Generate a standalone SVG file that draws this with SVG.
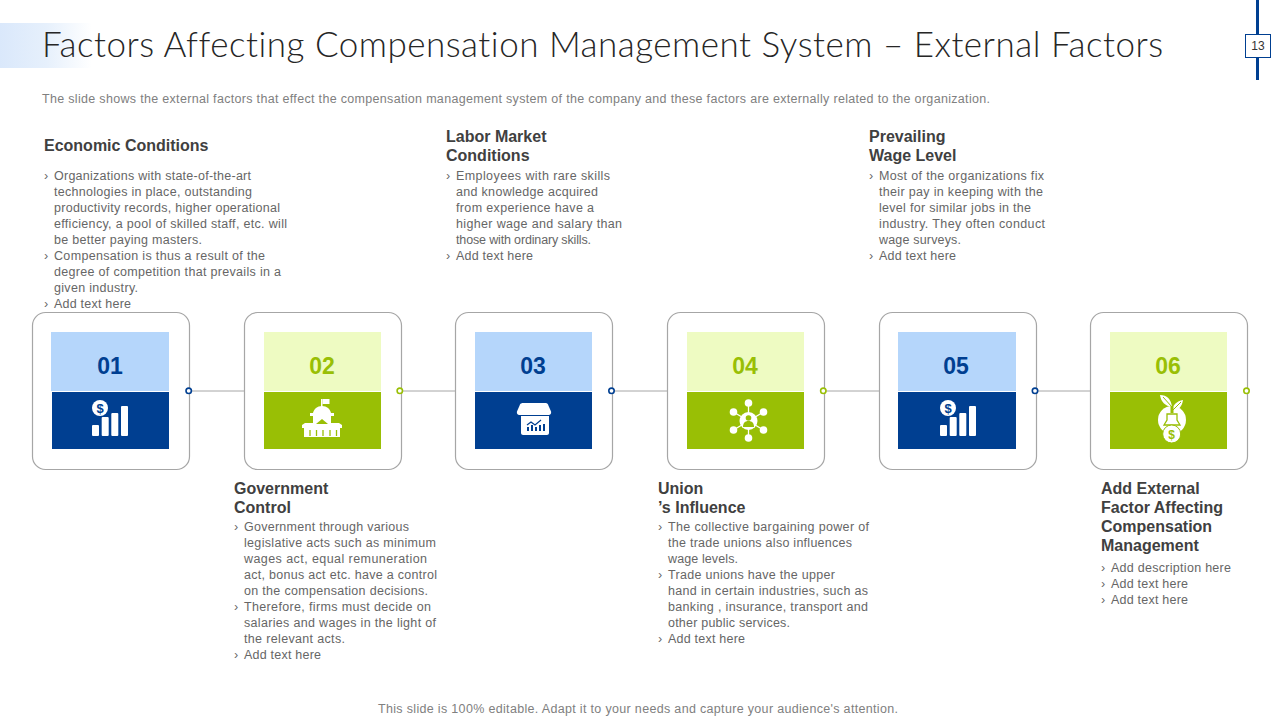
<svg xmlns="http://www.w3.org/2000/svg" width="1280" height="720" viewBox="0 0 1280 720">
<style>
.card{fill:#fff;stroke:#a6a6a6;stroke-width:1.2}
.b1{fill:#b5d6fb}.b2{fill:#003f91}.g1{fill:#eefbc2}.g2{fill:#99bf05}
.num{font:bold 23px "Liberation Sans",Arial,sans-serif;text-anchor:middle}
.nb{fill:#003f91}.ng{fill:#99bf05}
.h{font:bold 16px "Liberation Sans",Arial,sans-serif;fill:#404040}
.t{font:12.500px "Liberation Sans",Arial,sans-serif;fill:#666}
.s{font:12.500px "Liberation Sans",Arial,sans-serif;fill:#808080}
.lnk{stroke:#a6a6a6;stroke-width:1;fill:none}
.db{fill:#fff;stroke:#003f91;stroke-width:1.600}
.dg{fill:#fff;stroke:#99bf05;stroke-width:1.600}
</style>
<defs>
<linearGradient id="hg" x1="0" x2="1" y1="0" y2="0"><stop offset="0" stop-color="#dae8fb"/><stop offset=".5" stop-color="#e6f0fc"/><stop offset="1" stop-color="#fff"/></linearGradient>
<symbol id="bars" overflow="visible">
<circle cx="8" cy="8" r="8" fill="#fff"/>
<text x="8" y="12.500" font-family="Liberation Sans,sans-serif" font-weight="bold" font-size="13" text-anchor="middle" fill="#003f91">$</text>
<rect x="0" y="25" width="7" height="11" rx="1" fill="#fff"/><rect x="9.700" y="17" width="7" height="19" rx="1" fill="#fff"/><rect x="19.300" y="13" width="7" height="23" rx="1" fill="#fff"/><rect x="29" y="6" width="7" height="30" rx="1" fill="#fff"/>
</symbol>
</defs>
<rect id="header-band" x="0" y="23" width="92" height="45" fill="url(#hg)"/>
<text id="title" x="42" y="57" font-family="Lato,'Open Sans',sans-serif" font-weight="300" font-size="35" fill="#262626" style="font-variant-ligatures:none" textLength="1121" lengthAdjust="spacing">Factors Affecting Compensation Management System – External Factors</text>
<g id="page-number"><rect x="1256" y="0" width="3" height="80" fill="#003f91"/><rect x="1245.500" y="34.500" width="25" height="23" fill="#fff" stroke="#003f91"/><text x="1258" y="50" font-family="Liberation Sans,sans-serif" font-size="12" fill="#333" text-anchor="middle">13</text></g>
<text id="subtitle" class="s" x="42" y="103" textLength="948" lengthAdjust="spacing">The slide shows the external factors that effect the compensation management system of the company and these factors are externally related to the organization.</text>

<g id="node-01">
<rect class="card" x="32.500" y="312.500" width="157" height="157" rx="13"/>
<rect class="b1" x="51" y="332" width="118" height="59"/><rect class="b2" x="52" y="392" width="117" height="57"/>
<text class="num nb" x="110" y="374">01</text>
<use href="#bars" x="92" y="400"/>
<text class="h" x="44" y="151">Economic Conditions</text>
<g class="t">
<text x="44" y="180">›</text><text x="54" y="180" textLength="197" lengthAdjust="spacing">Organizations with state-of-the-art</text>
<text x="54" y="196" textLength="198" lengthAdjust="spacing">technologies in place, outstanding</text>
<text x="54" y="212" textLength="226" lengthAdjust="spacing">productivity records, higher operational</text>
<text x="54" y="228" textLength="233" lengthAdjust="spacing">efficiency, a pool of skilled staff, etc. will</text>
<text x="54" y="244" textLength="148" lengthAdjust="spacing">be better paying masters.</text>
<text x="44" y="260">›</text><text x="54" y="260" textLength="211" lengthAdjust="spacing">Compensation is thus a result of the</text>
<text x="54" y="276" textLength="227" lengthAdjust="spacing">degree of competition that prevails in a</text>
<text x="54" y="292" textLength="84" lengthAdjust="spacing">given industry.</text>
<text x="44" y="308">›</text><text x="54" y="308" textLength="77" lengthAdjust="spacing">Add text here</text>
</g>
</g>

<g id="node-02">
<rect class="card" x="244.500" y="312.500" width="157" height="157" rx="13"/>
<rect class="g1" x="264" y="332" width="117" height="59"/><rect class="g2" x="264" y="392" width="117" height="57"/>
<text class="num ng" x="322" y="374">02</text>
<g id="icon-building" fill="#fff">
<rect x="321" y="399" width="1.500" height="9"/><path d="M322.500 399h7v5h-7z"/>
<path d="M322 406c-5 0-8 3-9 7h-3v3h3v9h18v-9h3v-3h-3c-1-4-4-7-9-7z"/>
<path d="M302 425l3-2h34l3 2v3h-40z"/>
<path d="M304 428h36v9h-36z"/>
</g>
<path d="M316 424l6-5 6 5z" fill="#99bf05"/>
<g stroke="#99bf05" stroke-width="1.300"><line x1="310" y1="430" x2="310" y2="436"/><line x1="316.500" y1="430" x2="316.500" y2="436"/><line x1="323" y1="430" x2="323" y2="436"/><line x1="330" y1="430" x2="330" y2="436"/><line x1="336.500" y1="430" x2="336.500" y2="436"/></g>
<g class="h"><text x="234" y="494">Government</text><text x="234" y="513">Control</text></g>
<g class="t">
<text x="234" y="531">›</text><text x="244" y="531" textLength="165" lengthAdjust="spacing">Government through various</text>
<text x="244" y="547" textLength="192" lengthAdjust="spacing">legislative acts such as minimum</text>
<text x="244" y="563" textLength="183" lengthAdjust="spacing">wages act, equal remuneration</text>
<text x="244" y="579" textLength="193" lengthAdjust="spacing">act, bonus act etc. have a control</text>
<text x="244" y="595" textLength="184" lengthAdjust="spacing">on the compensation decisions.</text>
<text x="234" y="611">›</text><text x="244" y="611" textLength="187" lengthAdjust="spacing">Therefore, firms must decide on</text>
<text x="244" y="627" textLength="192" lengthAdjust="spacing">salaries and wages in the light of</text>
<text x="244" y="643" textLength="101" lengthAdjust="spacing">the relevant acts.</text>
<text x="234" y="659">›</text><text x="244" y="659" textLength="77" lengthAdjust="spacing">Add text here</text>
</g>
</g>

<g id="node-03">
<rect class="card" x="455.500" y="312.500" width="157" height="157" rx="13"/>
<rect class="b1" x="475" y="332" width="117" height="59"/><rect class="b2" x="475" y="392" width="117" height="57"/>
<text class="num nb" x="533" y="374">03</text>
<g id="icon-store">
<path d="M524 403h22c1 0 2 .5 2.500 1.500l3 7c.5 2-.5 3.500-2.500 3.500h-29c-2 0-3-1.500-2.500-3.500l3-7c.5-1 1.500-1.500 3.500-1.500z" fill="#fff" transform="translate(-.500 0)"/>
<path d="M521 416h28v17c0 1-1 2-2 2h-24c-1 0-2-1-2-2z" fill="#fff"/>
<path d="M527 425l4-3 4 3 6-5" fill="none" stroke="#003f91" stroke-width="1.200"/>
<g fill="#003f91"><rect x="527" y="427" width="2" height="4"/><rect x="531" y="425" width="2" height="6"/><rect x="535" y="427" width="2" height="4"/><rect x="539" y="425" width="2" height="6"/><rect x="543" y="424" width="2" height="7"/></g>
</g>
<g class="h"><text x="446" y="142">Labor Market</text><text x="446" y="161">Conditions</text></g>
<g class="t">
<text x="446" y="180">›</text><text x="456" y="180" textLength="154" lengthAdjust="spacing">Employees with rare skills</text>
<text x="456" y="196" textLength="142" lengthAdjust="spacing">and knowledge acquired</text>
<text x="456" y="212" textLength="138" lengthAdjust="spacing">from experience have a</text>
<text x="456" y="228" textLength="166" lengthAdjust="spacing">higher wage and salary than</text>
<text x="456" y="244" textLength="135" lengthAdjust="spacing">those with ordinary skills.</text>
<text x="446" y="260">›</text><text x="456" y="260" textLength="77" lengthAdjust="spacing">Add text here</text>
</g>
</g>

<g id="node-04">
<rect class="card" x="667.500" y="312.500" width="157" height="157" rx="13"/>
<rect class="g1" x="687" y="332" width="117" height="59"/><rect class="g2" x="687" y="392" width="117" height="57"/>
<text class="num ng" x="745" y="374">04</text>
<g id="icon-network">
<g stroke="#fff" stroke-width="1.300"><line x1="748.500" y1="403" x2="748.500" y2="438"/><line x1="733.500" y1="412" x2="763.500" y2="430"/><line x1="733.500" y1="430" x2="763.500" y2="412"/></g>
<g fill="#fff"><circle cx="748.500" cy="403" r="3.800"/><circle cx="748.500" cy="438" r="3.800"/><circle cx="733.500" cy="412" r="3.800"/><circle cx="763.500" cy="412" r="3.800"/><circle cx="733.500" cy="430" r="3.800"/><circle cx="763.500" cy="430" r="3.800"/><circle cx="748.500" cy="421" r="9"/></g>
<circle cx="748.500" cy="418" r="2.800" fill="#99bf05"/><path d="M743 427c0-4 2-6 5.500-6s5.500 2 5.500 6z" fill="#99bf05"/>
</g>
<g class="h"><text x="658" y="494">Union</text><text x="658" y="513">’s Influence</text></g>
<g class="t">
<text x="658" y="531">›</text><text x="668" y="531" textLength="201" lengthAdjust="spacing">The collective bargaining power of</text>
<text x="668" y="547" textLength="184" lengthAdjust="spacing">the trade unions also influences</text>
<text x="668" y="563" textLength="70" lengthAdjust="spacing">wage levels.</text>
<text x="658" y="579">›</text><text x="668" y="579" textLength="167" lengthAdjust="spacing">Trade unions have the upper</text>
<text x="668" y="595" textLength="200" lengthAdjust="spacing">hand in certain industries, such as</text>
<text x="668" y="611" textLength="200" lengthAdjust="spacing">banking , insurance, transport and</text>
<text x="668" y="627" textLength="122" lengthAdjust="spacing">other public services.</text>
<text x="658" y="643">›</text><text x="668" y="643" textLength="77" lengthAdjust="spacing">Add text here</text>
</g>
</g>

<g id="node-05">
<rect class="card" x="879.500" y="312.500" width="157" height="157" rx="13"/>
<rect class="b1" x="898" y="332" width="118" height="59"/><rect class="b2" x="898" y="392" width="118" height="57"/>
<text class="num nb" x="956" y="374">05</text>
<use href="#bars" x="940" y="400"/>
<g class="h"><text x="869" y="142">Prevailing</text><text x="869" y="161">Wage Level</text></g>
<g class="t">
<text x="869" y="180">›</text><text x="879" y="180" textLength="165" lengthAdjust="spacing">Most of the organizations fix</text>
<text x="879" y="196" textLength="164" lengthAdjust="spacing">their pay in keeping with the</text>
<text x="879" y="212" textLength="152" lengthAdjust="spacing">level for similar jobs in the</text>
<text x="879" y="228" textLength="166" lengthAdjust="spacing">industry. They often conduct</text>
<text x="879" y="244" textLength="82" lengthAdjust="spacing">wage surveys.</text>
<text x="869" y="260">›</text><text x="879" y="260" textLength="77" lengthAdjust="spacing">Add text here</text>
</g>
</g>

<g id="node-06">
<rect class="card" x="1090.500" y="312.500" width="157" height="157" rx="13"/>
<rect class="g1" x="1110" y="332" width="117" height="59"/><rect class="g2" x="1110" y="392" width="117" height="57"/>
<text class="num ng" x="1168" y="374">06</text>
<g id="icon-moneybag">
<circle cx="1172" cy="420" r="14" fill="#fff"/>
<path d="M1160 395c7 0 11 4 12 12-7-1-11-5-12-12zM1183 400c-1 7-5 11-11 12 0-7 5-11 11-12z" fill="#fff"/>
<path d="M1163 397l9 10M1181 402l-9 9" stroke="#99bf05" stroke-width="1" fill="none"/>
<path d="M1172 406v7" stroke="#99bf05" stroke-width="3" fill="none"/>
<path d="M1167 414h10v6l3 5h-16l3-5z" fill="#fff" stroke="#99bf05" stroke-width="1.300"/>
<circle cx="1171.700" cy="434" r="9" fill="#fff" stroke="#99bf05" stroke-width="1"/>
<text x="1171.700" y="438.500" font-family="Liberation Sans,sans-serif" font-size="12" font-weight="bold" text-anchor="middle" fill="#99bf05">$</text>
</g>
<g class="h"><text x="1101" y="494">Add External</text><text x="1101" y="513">Factor Affecting</text><text x="1101" y="532">Compensation</text><text x="1101" y="551">Management</text></g>
<g class="t">
<text x="1101" y="572">›</text><text x="1111" y="572" textLength="120" lengthAdjust="spacing">Add description here</text>
<text x="1101" y="588">›</text><text x="1111" y="588" textLength="77" lengthAdjust="spacing">Add text here</text>
<text x="1101" y="604">›</text><text x="1111" y="604" textLength="77" lengthAdjust="spacing">Add text here</text>
</g>
</g>

<g id="connectors">
<line class="lnk" x1="191" y1="391" x2="244" y2="391"/><line class="lnk" x1="402" y1="391" x2="455" y2="391"/><line class="lnk" x1="614" y1="391" x2="667" y2="391"/><line class="lnk" x1="826" y1="391" x2="879" y2="391"/><line class="lnk" x1="1037" y1="391" x2="1090" y2="391"/>
<circle class="db" cx="188.700" cy="390.800" r="2.700"/><circle class="dg" cx="399.800" cy="390.800" r="2.700"/><circle class="db" cx="611.500" cy="390.800" r="2.700"/><circle class="dg" cx="823.300" cy="390.800" r="2.700"/><circle class="db" cx="1035" cy="390.800" r="2.700"/><circle class="dg" cx="1246.500" cy="390.800" r="2.700"/>
</g>

<text id="footer" class="s" x="378" y="713" textLength="520" lengthAdjust="spacing">This slide is 100% editable. Adapt it to your needs and capture your audience's attention.</text>
</svg>
